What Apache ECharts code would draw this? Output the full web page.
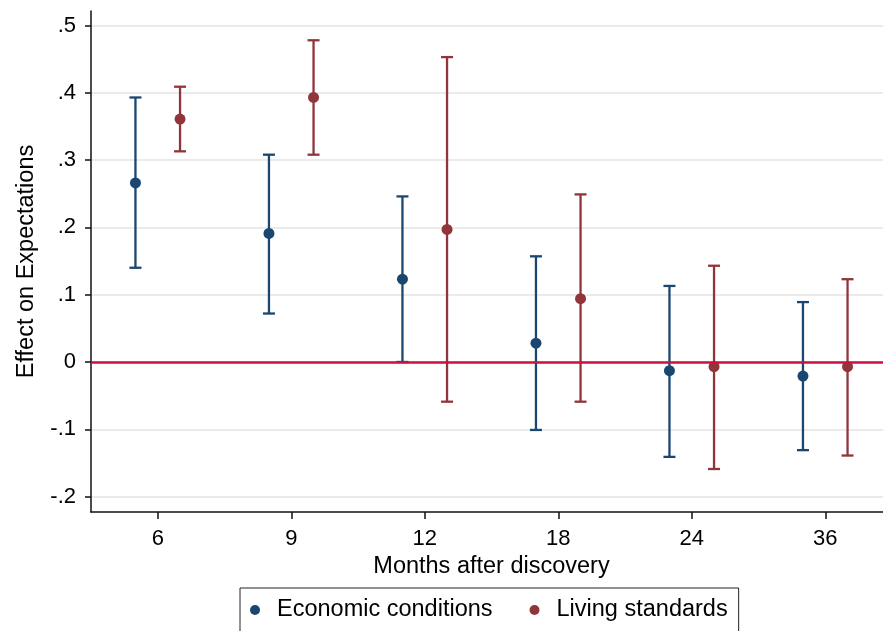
<!DOCTYPE html>
<html>
<head>
<meta charset="utf-8">
<script src="https://cdn.jsdelivr.net/npm/echarts@6/dist/echarts.min.js"></script>
<style>html,body{margin:0;padding:0;background:#fff;overflow:hidden;}#chart{width:883px;height:631px;}</style>
</head>
<body>
<div id="chart"></div>
<script>
const categories = ['6', '9', '12', '18', '24', '36'];
const econPoint = [0.266, 0.191, 0.123, 0.028, -0.013, -0.021];
const econLow   = [0.140, 0.072, 0.000, -0.101, -0.141, -0.131];
const econHigh  = [0.393, 0.308, 0.246, 0.157, 0.113, 0.089];
const livPoint  = [0.361, 0.393, 0.197, 0.094, -0.007, -0.007];
const livLow    = [0.313, 0.308, -0.059, -0.059, -0.159, -0.139];
const livHigh   = [0.409, 0.478, 0.453, 0.249, 0.143, 0.123];
const yTicks = [-0.2, -0.1, 0, 0.1, 0.2, 0.3, 0.4, 0.5];

const NAVY = '#1a476f', MAROON = '#90353b';
const OFF = 0.167;
const xTicks = categories.map((c, i) => i + 1);

function fmtY(v) {
  if (Math.abs(v) < 1e-9) return '0';
  return (Math.round(v * 10) / 10).toFixed(1).replace('0.', '.');
}
function errData(lo, hi, off) { return lo.map((l, i) => [i + 1 + off, l, hi[i]]); }
function ptData(p, off) { return p.map((v, i) => [i + 1 + off, v]); }
function errRender(color) {
  return function (params, api) {
    const x = api.value(0);
    const a = api.coord([x, api.value(1)]);
    const b = api.coord([x, api.value(2)]);
    const w = 6;
    const st = { stroke: color, lineWidth: 2.3 };
    return { type: 'group', children: [
      { type: 'line', shape: { x1: a[0], y1: a[1], x2: b[0], y2: b[1] }, style: st },
      { type: 'line', shape: { x1: a[0] - w, y1: a[1], x2: a[0] + w, y2: a[1] }, style: st },
      { type: 'line', shape: { x1: b[0] - w, y1: b[1], x2: b[0] + w, y2: b[1] }, style: st }
    ]};
  };
}

const chart = echarts.init(document.getElementById('chart'), null, { renderer: 'canvas' });
const font = 'Liberation Sans, Arial, sans-serif';
chart.setOption({
  animation: false,
  backgroundColor: '#fff',
  textStyle: { fontFamily: font },
  grid: { left: 91, right: -9, top: 11, bottom: 119, outerBoundsMode: 'none' },
  xAxis: {
    type: 'value', min: 0.5, max: 6.5,
    axisLine: { show: true, onZero: false, lineStyle: { color: '#111', width: 1.5 } },
    axisTick: { show: true, customValues: xTicks, length: 7, lineStyle: { color: '#111', width: 1.5 } },
    axisLabel: { customValues: xTicks, formatter: v => categories[Math.round(v) - 1], fontSize: 22, color: '#000', margin: 16, fontFamily: font },
    splitLine: { show: false },
    name: 'Months after discovery', nameLocation: 'middle', nameGap: 37,
    nameTextStyle: { fontSize: 23.5, color: '#000', fontFamily: font }
  },
  yAxis: {
    type: 'value', min: -0.2229, max: 0.5215,
    axisLine: { show: true, onZero: false, lineStyle: { color: '#111', width: 1.5 } },
    axisTick: { show: true, customValues: yTicks, length: 6, lineStyle: { color: '#111', width: 1.5 } },
    axisLabel: { customValues: yTicks, formatter: fmtY, fontSize: 22, color: '#000', margin: 15, fontFamily: font },
    splitLine: { show: true, lineStyle: { color: '#e4e4e4', width: 1.5 } },
    name: 'Effect on Expectations', nameLocation: 'middle', nameGap: 52, nameRotate: 90,
    nameTextStyle: { fontSize: 23.5, color: '#000', fontFamily: font }
  },
  legend: {
    left: 240, top: 588,
    data: [{ name: 'Economic conditions', icon: 'circle' }, { name: 'Living standards', icon: 'circle' }],
    itemWidth: 10, itemHeight: 10, itemGap: 37,
    padding: [10, 11, 40, 10],
    borderColor: '#222', borderWidth: 1,
    formatter: name => '{sp|}' + name,
    textStyle: { fontSize: 23.5, color: '#000', fontFamily: font,
      rich: { sp: { width: 12 } } }
  },
  series: [
    { type: 'custom', name: 'econErr', renderItem: errRender(NAVY), data: errData(econLow, econHigh, -OFF), z: 3,
      markLine: { silent: true, symbol: 'none', label: { show: false },
        lineStyle: { color: '#cc1040', width: 2.5, type: 'solid' }, data: [{ yAxis: 0 }] } },
    { type: 'custom', name: 'livErr', renderItem: errRender(MAROON), data: errData(livLow, livHigh, OFF), z: 3 },
    { type: 'scatter', name: 'Economic conditions', data: ptData(econPoint, -OFF), symbol: 'circle', symbolSize: 11, itemStyle: { color: NAVY, opacity: 1 }, z: 4 },
    { type: 'scatter', name: 'Living standards', data: ptData(livPoint, OFF), symbol: 'circle', symbolSize: 11, itemStyle: { color: MAROON, opacity: 1 }, z: 4 }
  ]
});
</script>
</body>
</html>
